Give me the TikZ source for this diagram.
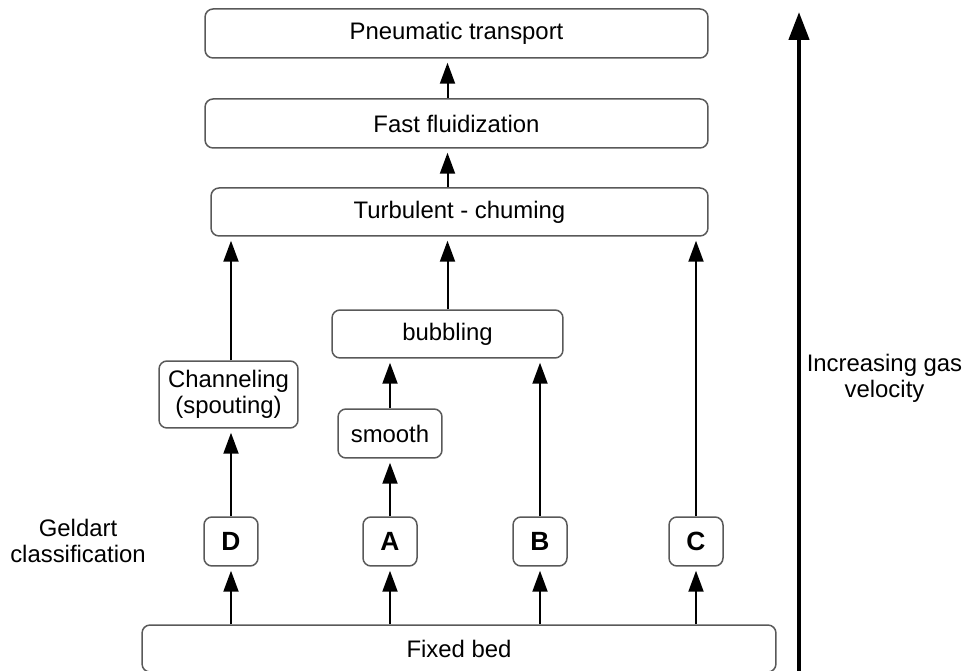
\documentclass[tikz,border=0pt]{standalone}
\usepackage{fontspec}
\setmainfont{Liberation Sans}
\usetikzlibrary{arrows.meta,calc}

\begin{document}
\begin{tikzpicture}[
  x=0.02cm, y=-0.02cm,
  font=\fontsize{13.6}{14.6}\selectfont,
  >={Triangle[length=0.42cm,width=0.3cm]},
  regbox/.style={draw=black!65, line width=0.03cm, rounded corners=0.16cm, align=center, inner sep=0pt},
  widebox/.style={regbox, minimum width=10.06cm, minimum height=0.98cm},
  classbox/.style={regbox, minimum width=1.08cm, minimum height=0.98cm, font=\fontsize{15}{16}\selectfont\bfseries},
  flow/.style={->, line width=0.04cm, shorten >=0.08cm},
  sidetext/.style={align=center, inner sep=0pt}
]
  \useasboundingbox (0,0) rectangle (966,671);
  \clip (0,0) rectangle (966,671);

  % regimes
  \node[widebox] (pneu) at (456.5,33.5) {Pneumatic transport};
  \node[widebox] (fast) at (456.5,123.5) {Fast fluidization};
  \node[regbox, minimum width=9.94cm, minimum height=0.96cm] (turb) at (459.5,212) {Turbulent - chuming};
  \node[regbox, minimum width=4.62cm, minimum height=0.96cm] (bubb) at (447.5,334) {bubbling};
  \node[regbox, minimum width=2.78cm, minimum height=1.34cm] (chan) at (228.5,394.5) {Channeling\\(spouting)};
  \node[regbox, minimum width=2.08cm, minimum height=0.98cm] (smooth) at (390,433.5) {smooth};

  % Geldart groups
  \node[classbox] (D) at (231,541.5) {D};
  \node[classbox] (A) at (390,541.5) {A};
  \node[classbox] (B) at (540,541.5) {B};
  \node[classbox] (C) at (696,541.5) {C};
  \node[regbox, minimum width=12.68cm, minimum height=0.94cm] (fixed) at (459,648.5) {Fixed bed};

  \node[sidetext] (geldart) at (78,541) {Geldart\\classification};
  \node[sidetext] (vel) at (884.5,378) {Increasing gas\\velocity};

  % connectors
  \foreach \grp in {D,A,B,C}
    \draw[flow] (fixed.north -| \grp) -- (\grp.south);
  \draw[flow] (D.north) -- (D.north |- chan.south);
  \draw[flow] (D.north |- chan.north) -- (D.north |- turb.south);
  \draw[flow] (A.north) -- (smooth.south);
  \draw[flow] (smooth.north) -- (smooth.north |- bubb.south);
  \draw[flow] (B.north) -- (B.north |- bubb.south);
  \draw[flow] (C.north) -- (C.north |- turb.south);
  \draw[flow] (bubb.north) -- (bubb.north |- turb.south);
  \draw[flow] (bubb.north |- turb.north) -- (bubb.north |- fast.south);
  \draw[flow] (bubb.north |- fast.north) -- (bubb.north |- pneu.south);

  % gas velocity axis
  \coordinate (velbot) at (799,671);
  \coordinate (veltop) at (799,12);
  \draw[-{Triangle[length=0.56cm,width=0.4cm]}, line width=0.09cm] (velbot) -- (veltop);
\end{tikzpicture}
\end{document}
